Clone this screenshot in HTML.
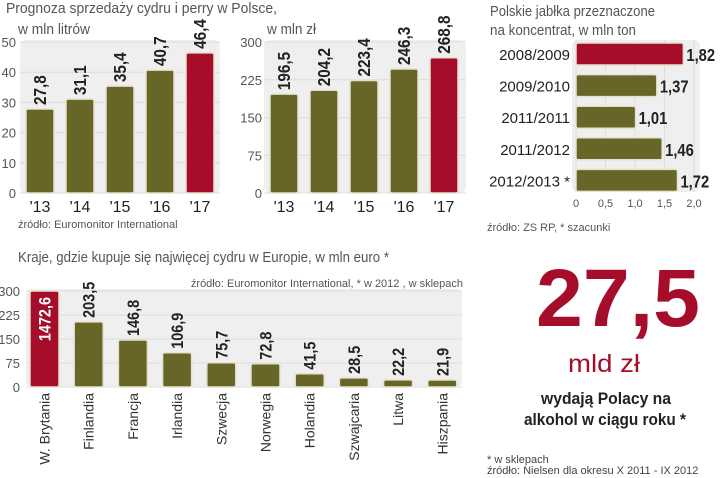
<!DOCTYPE html>
<html><head><meta charset="utf-8"><style>
html,body{margin:0;padding:0;background:#fff;}
svg{display:block;font-family:"Liberation Sans",sans-serif;}
</style></head><body>
<svg id="s" width="720" height="478" viewBox="0 0 720 478" xmlns="http://www.w3.org/2000/svg">
<text x="6" y="13" font-size="15" fill="#555" textLength="271" lengthAdjust="spacingAndGlyphs">Prognoza sprzedaży cydru i perry w Polsce,</text>
<text x="18" y="34" font-size="15" fill="#555" textLength="72" lengthAdjust="spacingAndGlyphs">w mln litrów</text>
<text x="267" y="34" font-size="15" fill="#555" textLength="49" lengthAdjust="spacingAndGlyphs">w mln zł</text>
<text x="18" y="228" font-size="11" fill="#555">źródło: Euromonitor International</text>
<text x="490" y="16" font-size="15" fill="#555" textLength="165" lengthAdjust="spacingAndGlyphs">Polskie jabłka przeznaczone</text>
<text x="490" y="35" font-size="15" fill="#555" textLength="146" lengthAdjust="spacingAndGlyphs">na koncentrat, w mln ton</text>
<text x="487" y="231" font-size="11" fill="#555">źródło: ZS RP, * szacunki</text>
<text x="18" y="262" font-size="15" fill="#555" textLength="371" lengthAdjust="spacingAndGlyphs">Kraje, gdzie kupuje się najwięcej cydru w Europie, w mln euro *</text>
<text x="463" y="287" font-size="11" fill="#555" text-anchor="end">źródło: Euromonitor International,  * w 2012 , w sklepach</text>
<text x="618" y="326" font-size="82" font-weight="bold" fill="#a50d2a" text-anchor="middle" textLength="164" lengthAdjust="spacingAndGlyphs">27,5</text>
<text x="604" y="372" font-size="25" fill="#a50d2a" text-anchor="middle" textLength="72" lengthAdjust="spacingAndGlyphs">mld zł</text>
<text x="606" y="404" font-size="17" font-weight="bold" fill="#222" text-anchor="middle" textLength="130" lengthAdjust="spacingAndGlyphs">wydają Polacy na</text>
<text x="605" y="425" font-size="17" font-weight="bold" fill="#222" text-anchor="middle" textLength="162" lengthAdjust="spacingAndGlyphs">alkohol w ciągu roku *</text>
<text x="487" y="463" font-size="11" fill="#444">* w sklepach</text>
<text x="487" y="474" font-size="11" fill="#444">źródło: Nielsen dla okresu X 2011 - IX 2012</text>
</svg>
<script>
const c1Cats=["'13","'14","'15","'16","'17"];
const c1Vals=[27.8,31.1,35.4,40.7,46.4];
const c1Labels=["27,8","31,1","35,4","40,7","46,4"];
const c1Ticks=[0,10,20,30,40,50];
const c2Vals=[196.5,204.2,223.4,246.3,268.8];
const c2Labels=["196,5","204,2","223,4","246,3","268,8"];
const c2Ticks=[0,75,150,225,300];
const c3Cats=["2008/2009","2009/2010","2011/2011","2011/2012","2012/2013 *"];
const c3Vals=[1.82,1.37,1.01,1.46,1.72];
const c3Labels=["1,82","1,37","1,01","1,46","1,72"];
const c3Ticks=[0,0.5,1.0,1.5,2.0];
const c3TickLabels=["0","0,5","1,0","1,5","2,0"];
const c4Cats=["W. Brytania","Finlandia","Francja","Irlandia","Szwecja","Norwegia","Holandia","Szwajcaria","Litwa","Hiszpania"];
const c4Vals=[1472.6,203.5,146.8,106.9,75.7,72.8,41.5,28.5,22.2,21.9];
const c4Labels=["1472,6","203,5","146,8","106,9","75,7","72,8","41,5","28,5","22,2","21,9"];
const c4Ticks=[0,75,150,225,300];

const S=document.getElementById('s');
const NS="http://www.w3.org/2000/svg";
const OL="#676628",RD="#a50d2a";
function mk(t,a,txt){const e=document.createElementNS(NS,t);for(const k in a)e.setAttribute(k,a[k]);if(txt!==undefined)e.textContent=txt;S.appendChild(e);return e;}

function vchart(p,vals,labels,ticks,cats,maxV){
  const y=v=>p.bot-(Math.min(v,maxV)/maxV)*(p.bot-p.top);
  const bg=mk('rect',{x:p.x0,y:p.top-2,width:p.x1-p.x0,height:p.bot-p.top+2,rx:6,fill:'#efefef'});
  
  
  ticks.forEach(t=>{
    const g=mk('line',{x1:p.x0,x2:p.x1,y1:y(t),y2:y(t),stroke:'#dcdcdc','stroke-width':1});
    
    
    const tl=mk('text',{x:p.tx,y:y(t)+5,'font-size':13,fill:'#555','text-anchor':'end'},String(t));
    
    
  });
  vals.forEach((v,i)=>{
    const bx=p.bx0+i*p.step, top=y(v), col=(i===p.red)?RD:OL;
    const r=mk('rect',{x:bx,y:top,width:p.bw,height:p.bot-top,rx:2,fill:col,stroke:'#e6e2cc','stroke-width':1.5});
    
    
    const cx=bx+p.bw/2+6;
    let lt;
    if(p.inside && v>maxV){
      lt=mk('text',{x:0,y:0,'font-size':p.fs,'font-weight':'bold',fill:'#fff',transform:`translate(${cx},${top+6}) rotate(-90) scale(0.85,1)`,'text-anchor':'end'},labels[i]);
    }else{
      lt=mk('text',{x:0,y:0,'font-size':p.fs,'font-weight':'bold',fill:'#222',transform:`translate(${cx},${top-4}) rotate(-90) scale(0.85,1)`},labels[i]);
    }
    
    
    if(cats){
      let cl;
      if(p.rotCats){
        cl=mk('text',{x:0,y:0,'font-size':14,fill:'#333',transform:`translate(${bx+p.bw/2+5},${p.bot+6}) rotate(-90)`,'text-anchor':'end'},cats[i]);
      }else{
        cl=mk('text',{x:bx+p.bw/2,y:p.bot+19,'font-size':16,fill:'#222','text-anchor':'middle'},cats[i]);
      }
      
      
    }
  });
}
vchart({id:'chart1',x0:20,x1:220,top:42,bot:193,tx:16,bx0:26,step:40,bw:28,red:4,fs:18},c1Vals,c1Labels,c1Ticks,c1Cats,50);
vchart({id:'chart2',x0:264,x1:466,top:42,bot:193,tx:262,bx0:270,step:40,bw:28,red:4,fs:18},c2Vals,c2Labels,c2Ticks,c1Cats,300);
vchart({id:'chart4',x0:26,x1:462,top:291,bot:387,tx:20,bx0:30,step:44.2,bw:29,red:0,fs:17,inside:true,rotCats:true},c4Vals,c4Labels,c4Ticks,c4Cats,300);

(function(){
  const x0=576,x1=694,top=40,bot=192;
  const x=v=>x0+v/2.0*(x1-x0);
  const bg=mk('rect',{x:x0-4,y:top,width:x1-x0+10,height:bot-top,rx:6,fill:'#efefef'});
  
  
  c3Ticks.forEach((t,i)=>{
    const g=mk('line',{x1:x(t),x2:x(t),y1:top,y2:bot,stroke:'#dcdcdc','stroke-width':1});
    
    
    const tl=mk('text',{x:x(t),y:207,'font-size':11,fill:'#555','text-anchor':'middle'},c3TickLabels[i]);
    
    
  });
  c3Vals.forEach((v,i)=>{
    const cy=54+i*31.6;
    const r=mk('rect',{x:x0,y:cy-11,width:x(v)-x0,height:22,rx:2,fill:i===0?RD:OL,stroke:'#e6e2cc','stroke-width':1.5});
    
    
    const cl=mk('text',{x:570,y:cy+6,'font-size':15,fill:'#222','text-anchor':'end'},c3Cats[i]);
    
    
    const vl=mk('text',{x:0,y:0,'font-size':18,'font-weight':'bold',fill:'#222',transform:`translate(${x(v)+3},${cy+7}) scale(0.82,1)`},c3Labels[i]);
    
    
  });
})();
</script>
</body></html>
